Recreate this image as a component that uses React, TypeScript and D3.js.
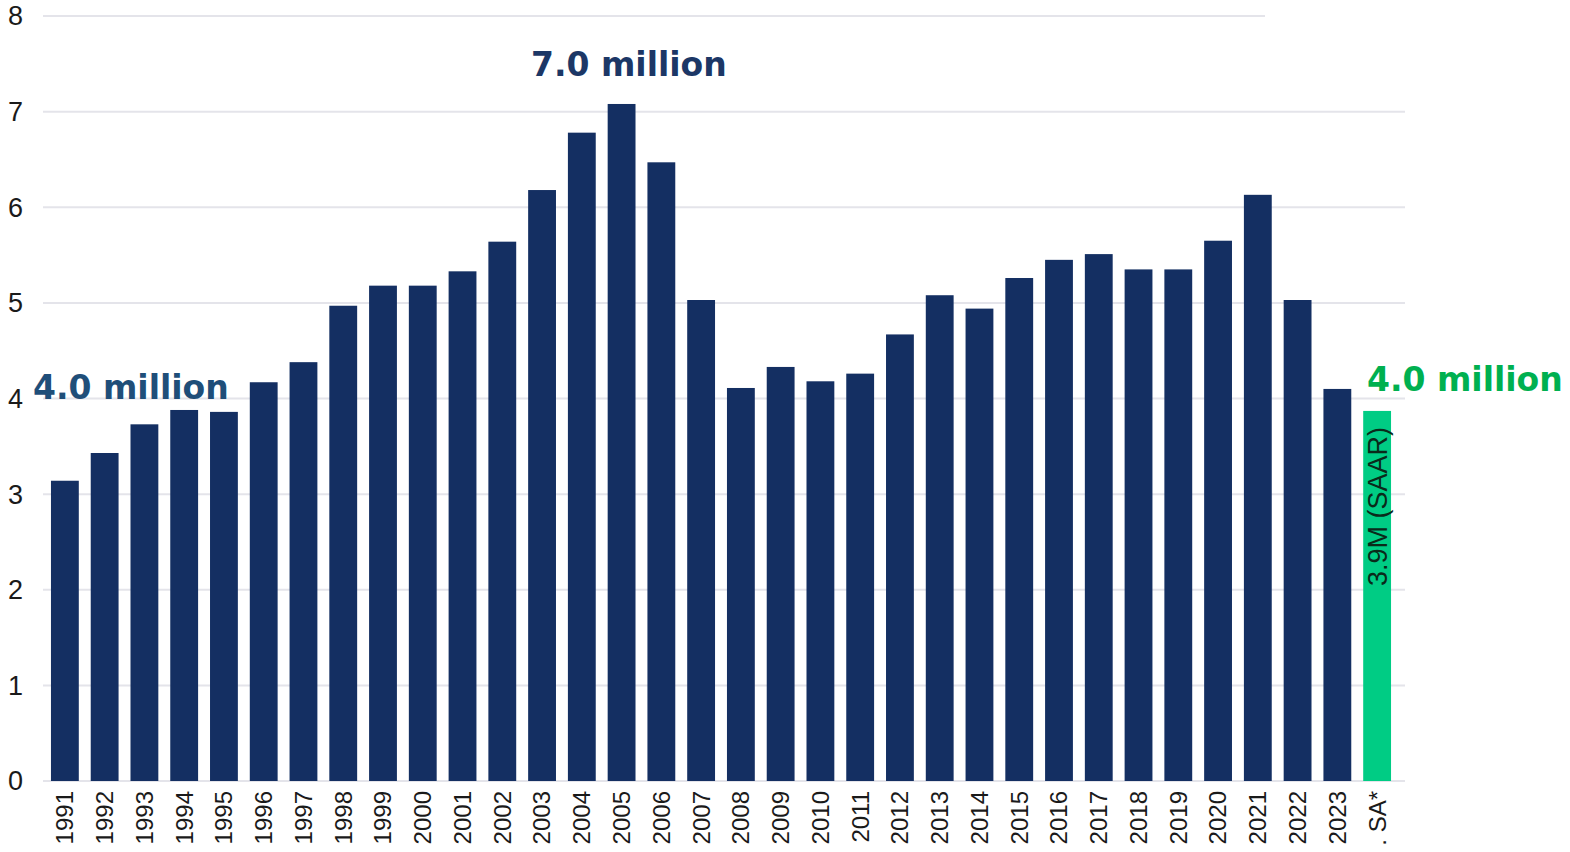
import React from "react";
import * as d3 from "d3";

const categories = [
  "1991","1992","1993","1994","1995","1996","1997","1998","1999","2000",
  "2001","2002","2003","2004","2005","2006","2007","2008","2009","2010",
  "2011","2012","2013","2014","2015","2016","2017","2018","2019","2020",
  "2021","2022","2023",". SA*",
];
const values = [
  3.14, 3.43, 3.73, 3.88, 3.86, 4.17, 4.38, 4.97, 5.18, 5.18,
  5.33, 5.64, 6.18, 6.78, 7.08, 6.47, 5.03, 4.11, 4.33, 4.18,
  4.26, 4.67, 5.08, 4.94, 5.26, 5.45, 5.51, 5.35, 5.35, 5.65,
  6.13, 5.03, 4.10, 3.87,
];
const yTicks = [0, 1, 2, 3, 4, 5, 6, 7, 8];
const highlightIndex = 33;
const highlightLabel = "3.9M (SAAR)";
const annotations = [
  { text: "4.0 million", x: 33, y: 4.0, color: "#1f4e79" },
  { text: "7.0 million", x: 531, y: 7.37, color: "#1c3766" },
  { text: "4.0 million", x: 1367, y: 4.08, color: "#00b050" },
];

const W = 1570;
const H = 852;

export default function App() {
  const x = d3
    .scaleBand<string>()
    .domain(categories)
    .range([45, 1397])
    .paddingInner(0.3)
    .paddingOuter(0.15);
  const y = d3.scaleLinear().domain([0, 8]).range([781, 16]);
  const bw = x.bandwidth();

  return (
    <svg
      width={W}
      height={H}
      style={{ position: "absolute", left: 0, top: 0, background: "#fff" }}
    >
      {yTicks.map((t) => (
        <g key={t}>
          <line
            x1={43}
            x2={t === 8 ? 1265 : 1405}
            y1={y(t)}
            y2={y(t)}
            stroke="#e4e4ea"
            strokeWidth={2}
          />
          <text
            x={23}
            y={y(t)}
            dy="0.35em"
            textAnchor="end"
            fontFamily="'Liberation Sans', Arial, sans-serif"
            fontSize={27}
            fill="#1a1a1a"
          >
            {t}
          </text>
        </g>
      ))}
      {categories.map((c, i) => (
        <rect
          key={c}
          x={x(c)}
          y={y(values[i])}
          width={bw}
          height={y(0) - y(values[i])}
          fill={i === highlightIndex ? "#00cc84" : "#142f62"}
        />
      ))}
      {categories.map((c) => {
        const cx = (x(c) as number) + bw / 2;
        return (
          <text
            key={"l" + c}
            transform={`translate(${cx},791) rotate(-90)`}
            dy="0.35em"
            textAnchor="end"
            fontFamily="'Liberation Sans', Arial, sans-serif"
            fontSize={24}
            fill="#1a1a1a"
          >
            {c}
          </text>
        );
      })}
      <text
        transform={`translate(${(x(categories[highlightIndex]) as number) + bw / 2},427) rotate(-90)`}
        dy="0.36em"
        textAnchor="end"
        fontFamily="'Liberation Sans', Arial, sans-serif"
        fontSize={27}
        fill="#0a2a1a"
      >
        {highlightLabel}
      </text>
      {annotations.map((a, i) => (
        <text
          key={"a" + i}
          x={a.x}
          y={y(a.y)}
          fontFamily="'DejaVu Sans', Verdana, sans-serif"
          fontWeight="bold"
          fontSize={33}
          fill={a.color}
        >
          {a.text}
        </text>
      ))}
    </svg>
  );
}
